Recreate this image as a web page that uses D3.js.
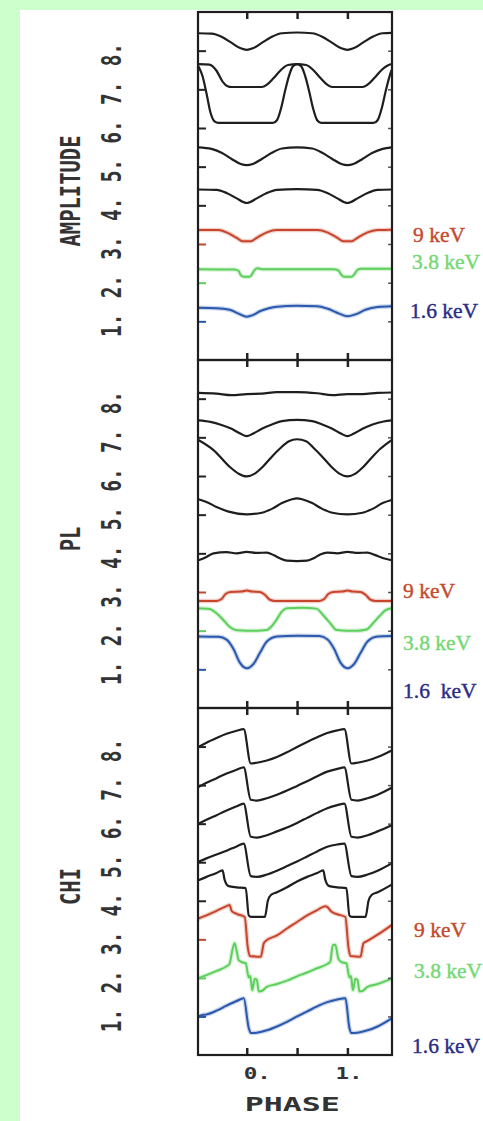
<!DOCTYPE html>
<html>
<head>
<meta charset="utf-8">
<script src="https://cdn.jsdelivr.net/npm/d3@7"></script>
<style>
body{margin:0;background:#ccffcc;}
</style>
</head>
<body>
<div id="chart"></div>
<script>
// panels, level ticks and phase ticks
var panelNames=["AMPLITUDE","PL","CHI"]
var levelTicks=[1,2,3,4,5,6,7,8]
var phaseTicks=[0,0.5,1]
var phaseLabels=["0.","1."]
var energyNames=["1.6 keV","3.8 keV","9 keV"]

// AMPLITUDE panel, curve n sits on level n  [phase, level]
var amp1=[[-0.48,1.35],[-0.3,1.34],[-0.17,1.3],[-0.08,1.2],[0,1.12],[0.06,1.16],[0.13,1.26],[0.22,1.34],[0.3,1.38],[0.5,1.4],[0.7,1.39],[0.8,1.33],[0.92,1.2],[1,1.13],[1.08,1.18],[1.18,1.3],[1.3,1.37],[1.44,1.39]]
var amp2=[[-0.48,2.35],[-0.12,2.34],[-0.08,2.3],[-0.06,2.2],[-0.03,2.15],[0.03,2.15],[0.06,2.25],[0.08,2.33],[0.11,2.37],[0.15,2.35],[0.86,2.35],[0.91,2.32],[0.94,2.2],[0.97,2.15],[1.04,2.15],[1.07,2.22],[1.1,2.33],[1.14,2.36],[1.44,2.36]]
var amp3=[[-0.48,3.36],[-0.28,3.36],[-0.2,3.3],[-0.1,3.16],[-0.04,3.07],[0.04,3.07],[0.1,3.16],[0.2,3.3],[0.3,3.36],[0.7,3.36],[0.8,3.3],[0.9,3.16],[0.96,3.07],[1.04,3.07],[1.1,3.16],[1.2,3.3],[1.3,3.36],[1.44,3.37]]
var amp4=[[-0.48,4.41],[-0.3,4.4],[-0.2,4.32],[-0.1,4.18],[-0.03,4.08],[0,4.06],[0.03,4.08],[0.1,4.18],[0.2,4.32],[0.3,4.4],[0.5,4.42],[0.7,4.4],[0.8,4.32],[0.9,4.18],[0.97,4.08],[1,4.06],[1.03,4.08],[1.1,4.18],[1.2,4.32],[1.3,4.4],[1.44,4.41]]
var amp5=[[-0.48,5.5],[-0.35,5.46],[-0.25,5.36],[-0.15,5.2],[-0.06,5.07],[0,5.04],[0.06,5.07],[0.15,5.2],[0.25,5.36],[0.35,5.47],[0.5,5.5],[0.65,5.47],[0.75,5.36],[0.85,5.2],[0.94,5.07],[1,5.04],[1.06,5.07],[1.15,5.2],[1.25,5.36],[1.35,5.46],[1.44,5.5]]
var amp6=[[-0.48,7.6],[-0.44,7.35],[-0.4,6.9],[-0.36,6.4],[-0.32,6.17],[-0.28,6.13],[0.26,6.13],[0.3,6.2],[0.34,6.5],[0.38,6.95],[0.42,7.35],[0.46,7.6],[0.5,7.65],[0.54,7.6],[0.58,7.35],[0.62,6.95],[0.66,6.5],[0.7,6.2],[0.74,6.13],[1.26,6.13],[1.3,6.2],[1.34,6.5],[1.38,6.95],[1.42,7.35],[1.44,7.5]]
var amp7=[[-0.48,7.65],[-0.37,7.64],[-0.3,7.48],[-0.24,7.2],[-0.19,7.08],[-0.15,7.06],[0.15,7.06],[0.2,7.12],[0.27,7.3],[0.34,7.5],[0.41,7.63],[0.5,7.65],[0.59,7.63],[0.66,7.5],[0.73,7.3],[0.8,7.12],[0.85,7.06],[1.15,7.06],[1.2,7.12],[1.27,7.3],[1.34,7.5],[1.41,7.63],[1.44,7.65]]
var amp8=[[-0.48,8.45],[-0.35,8.44],[-0.25,8.36],[-0.15,8.2],[-0.06,8.06],[0,8.02],[0.06,8.06],[0.15,8.2],[0.25,8.36],[0.35,8.45],[0.5,8.47],[0.65,8.45],[0.75,8.36],[0.85,8.2],[0.94,8.06],[1,8.02],[1.06,8.06],[1.15,8.2],[1.25,8.36],[1.35,8.45],[1.44,8.46]]

// PL panel
var pl1=[[-0.48,1.85],[-0.28,1.84],[-0.2,1.77],[-0.13,1.52],[-0.07,1.18],[0,1.03],[0.07,1.15],[0.13,1.42],[0.2,1.72],[0.3,1.85],[0.5,1.87],[0.72,1.86],[0.8,1.78],[0.87,1.52],[0.93,1.18],[1,1.03],[1.07,1.15],[1.13,1.42],[1.2,1.72],[1.3,1.85],[1.44,1.86]]
var pl2=[[-0.48,2.58],[-0.37,2.56],[-0.3,2.45],[-0.23,2.27],[-0.17,2.1],[-0.1,2.01],[0,2],[0.1,2],[0.2,2.02],[0.25,2.12],[0.3,2.3],[0.35,2.5],[0.4,2.58],[0.55,2.59],[0.69,2.57],[0.76,2.4],[0.83,2.19],[0.89,2.02],[1,2],[1.1,2],[1.19,2.03],[1.25,2.18],[1.32,2.38],[1.38,2.53],[1.44,2.58]]
var pl3=[[-0.48,2.77],[-0.3,2.77],[-0.25,2.82],[-0.21,2.95],[-0.16,3],[-0.05,3.01],[0,3.04],[0.05,3.01],[0.13,3],[0.18,2.93],[0.23,2.8],[0.28,2.77],[0.72,2.77],[0.77,2.82],[0.81,2.95],[0.86,3],[0.95,3.01],[1,3.04],[1.05,3.01],[1.13,3],[1.18,2.93],[1.23,2.8],[1.28,2.77],[1.44,2.77]]
var pl4=[[-0.48,3.82],[-0.42,3.88],[-0.33,4],[-0.2,4.03],[-0.1,4],[0,4.04],[0.1,4.01],[0.2,4.02],[0.27,3.95],[0.33,3.87],[0.4,3.81],[0.5,3.8],[0.6,3.81],[0.67,3.88],[0.73,3.97],[0.8,4.02],[0.9,4],[1,4.04],[1.1,4.01],[1.2,4.02],[1.27,3.96],[1.35,3.88],[1.44,3.82]]
var pl5=[[-0.48,5.4],[-0.4,5.33],[-0.3,5.2],[-0.18,5.08],[0,5.01],[0.15,5.05],[0.25,5.15],[0.35,5.3],[0.45,5.4],[0.5,5.42],[0.55,5.4],[0.65,5.3],[0.75,5.15],[0.85,5.05],[1,5.01],[1.15,5.05],[1.25,5.15],[1.35,5.3],[1.44,5.38]]
var pl6=[[-0.48,6.93],[-0.33,6.67],[-0.17,6.24],[-0.08,6.06],[0,5.99],[0.08,6.06],[0.16,6.24],[0.25,6.5],[0.33,6.71],[0.42,6.9],[0.5,6.95],[0.59,6.9],[0.67,6.71],[0.75,6.5],[0.84,6.24],[0.92,6.06],[1,5.99],[1.08,6.06],[1.16,6.24],[1.25,6.5],[1.33,6.71],[1.44,6.93]]
var pl7=[[-0.48,7.44],[-0.36,7.4],[-0.25,7.32],[-0.15,7.22],[-0.06,7.09],[0,7.03],[0.06,7.09],[0.15,7.22],[0.25,7.33],[0.35,7.42],[0.5,7.45],[0.65,7.42],[0.75,7.33],[0.85,7.22],[0.94,7.09],[1,7.03],[1.06,7.09],[1.15,7.22],[1.25,7.33],[1.36,7.41],[1.44,7.44]]
var pl8=[[-0.48,8.15],[-0.3,8.13],[-0.15,8.09],[0,8.12],[0.15,8.13],[0.3,8.17],[0.5,8.17],[0.7,8.14],[0.85,8.09],[1,8.12],[1.15,8.12],[1.3,8.15],[1.44,8.16]]

// CHI panel
var chi1=[[-0.48,0.99],[-0.45,1.03],[-0.4,1.05],[-0.3,1.15],[-0.2,1.28],[-0.1,1.4],[-0.03,1.47],[0.02,0.7],[0.04,0.57],[0.1,0.58],[0.2,0.64],[0.3,0.74],[0.4,0.86],[0.5,1],[0.6,1.13],[0.7,1.26],[0.8,1.37],[0.9,1.44],[0.98,1.47],[1.02,0.7],[1.04,0.57],[1.1,0.58],[1.2,0.64],[1.3,0.74],[1.44,0.95]]
var chi2=[[-0.48,1.99],[-0.4,2.07],[-0.3,2.18],[-0.2,2.3],[-0.17,2.37],[-0.14,2.75],[-0.12,2.9],[-0.1,2.7],[-0.08,2.46],[-0.04,2.4],[-0.01,2.38],[0.02,2.01],[0.035,2.05],[0.055,1.68],[0.08,1.98],[0.1,1.95],[0.12,1.65],[0.15,1.66],[0.2,1.77],[0.3,1.84],[0.4,1.93],[0.5,2.04],[0.6,2.14],[0.7,2.25],[0.8,2.36],[0.83,2.42],[0.855,2.85],[0.88,2.86],[0.91,2.5],[0.94,2.41],[0.99,2.38],[1.02,2.01],[1.035,2.05],[1.055,1.68],[1.08,1.98],[1.1,1.95],[1.12,1.65],[1.15,1.66],[1.2,1.77],[1.3,1.84],[1.44,1.98]]
var chi3=[[-0.48,3.54],[-0.4,3.62],[-0.3,3.74],[-0.2,3.86],[-0.17,3.89],[-0.15,3.74],[-0.1,3.66],[-0.02,3.58],[0.01,2.8],[0.03,2.57],[0.14,2.55],[0.17,2.9],[0.2,2.98],[0.3,3.1],[0.4,3.28],[0.5,3.45],[0.6,3.62],[0.7,3.76],[0.78,3.86],[0.8,3.84],[0.84,3.72],[0.9,3.65],[0.98,3.58],[1.01,2.8],[1.03,2.57],[1.13,2.55],[1.16,2.9],[1.2,2.96],[1.3,3.12],[1.44,3.37]]
var chi4=[[-0.48,4.53],[-0.4,4.62],[-0.3,4.72],[-0.24,4.79],[-0.22,4.55],[-0.18,4.38],[-0.1,4.35],[-0.01,4.33],[0.02,3.62],[0.05,3.58],[0.18,3.58],[0.21,4],[0.24,4.15],[0.3,4.22],[0.4,4.35],[0.5,4.5],[0.6,4.62],[0.7,4.72],[0.76,4.79],[0.78,4.55],[0.82,4.38],[0.9,4.35],[0.99,4.33],[1.02,3.62],[1.05,3.58],[1.18,3.58],[1.21,4],[1.24,4.15],[1.3,4.22],[1.44,4.42]]
var chi5=[[-0.48,5.01],[-0.4,5.1],[-0.3,5.2],[-0.2,5.3],[-0.1,5.41],[-0.03,5.48],[0.04,4.64],[0.1,4.62],[0.2,4.68],[0.3,4.78],[0.4,4.9],[0.5,5.02],[0.6,5.15],[0.7,5.28],[0.8,5.4],[0.9,5.46],[0.97,5.48],[1.04,4.64],[1.1,4.62],[1.2,4.68],[1.3,4.78],[1.44,4.97]]
var chi6=[[-0.48,6],[-0.4,6.1],[-0.3,6.22],[-0.2,6.34],[-0.1,6.45],[-0.03,6.52],[0.04,5.66],[0.1,5.64],[0.2,5.7],[0.3,5.8],[0.4,5.9],[0.5,6.02],[0.6,6.15],[0.7,6.28],[0.8,6.4],[0.9,6.48],[0.97,6.52],[1.04,5.66],[1.1,5.64],[1.2,5.7],[1.3,5.8],[1.44,5.96]]
var chi7=[[-0.48,6.95],[-0.4,7.06],[-0.3,7.18],[-0.2,7.3],[-0.1,7.4],[-0.03,7.46],[0.04,6.62],[0.1,6.6],[0.2,6.66],[0.3,6.75],[0.4,6.86],[0.5,6.98],[0.6,7.1],[0.7,7.23],[0.8,7.35],[0.9,7.42],[0.97,7.46],[1.04,6.62],[1.1,6.6],[1.2,6.66],[1.3,6.75],[1.44,6.93]]
var chi8=[[-0.48,7.99],[-0.4,8.1],[-0.3,8.22],[-0.2,8.33],[-0.1,8.41],[-0.03,8.45],[0.04,7.56],[0.1,7.58],[0.2,7.64],[0.3,7.73],[0.4,7.85],[0.5,7.99],[0.6,8.12],[0.7,8.24],[0.8,8.35],[0.9,8.42],[0.97,8.45],[1.04,7.56],[1.1,7.58],[1.2,7.64],[1.3,7.73],[1.44,7.9]]

var W=483, H=1121
var left=198, right=392
var panelEdges=[12,360,708,1055]
var curveColors=["#2a58ad","#5ccf5c","#c8452d","#1e1e1e","#1e1e1e","#1e1e1e","#1e1e1e","#1e1e1e"]
var labelColors=["#2b2b86","#74d874","#c44a2c"]

var panels=[
	{name:panelNames[0],series:[amp1,amp2,amp3,amp4,amp5,amp6,amp7,amp8],labels:[[3.05,413],[2.35,412],[1.08,410]]},
	{name:panelNames[1],series:[pl1,pl2,pl3,pl4,pl5,pl6,pl7,pl8],labels:[[2.84,403],[1.5,403],[0.26,403]]},
	{name:panelNames[2],series:[chi1,chi2,chi3,chi4,chi5,chi6,chi7,chi8],labels:[[3.05,414],[1.99,414],[0.06,412]]}
]

var svg=d3.select("#chart").append("svg")
	.attr("width",W)
	.attr("height",H)

svg.append("rect").attr("width",W).attr("height",H).attr("fill","#ccffcc")
svg.append("rect").attr("x",20).attr("y",10).attr("width",W-20).attr("height",H-10).attr("fill","#ffffff")

var xScale=d3.scaleLinear()
	.domain([-0.484,1.443])
	.range([left,right])

var plotFont="'DejaVu Sans Mono', monospace"

panels.forEach(function(p,k){
	var top=panelEdges[k], bottom=panelEdges[k+1]
	var yScale=d3.scaleLinear().domain([0,9]).range([bottom,top])
	var g=svg.append("g")

	// curves (coloured ones get a soft halo like the scanned original)
	var line=d3.line()
		.x(function(d){return xScale(d[0])})
		.y(function(d){return yScale(d[1])})
		.curve(d3.curveMonotoneX)
	p.series.forEach(function(s,i){
		if(i<3){
			g.append("path")
				.datum(s)
				.attr("d",line)
				.attr("fill","none")
				.attr("stroke",curveColors[i])
				.attr("stroke-opacity",0.25)
				.attr("stroke-width",4.5)
				.attr("stroke-linejoin","round")
		}
		g.append("path")
			.datum(s)
			.attr("d",line)
			.attr("fill","none")
			.attr("stroke",curveColors[i])
			.attr("stroke-width",i<3?2:2.2)
			.attr("stroke-linejoin","round")
	})

	// inward ticks, left and right
	var yl=g.append("g").attr("transform","translate("+left+",0)")
		.call(d3.axisRight(yScale).tickValues(levelTicks).tickSize(8).tickFormat(""))
	yl.select(".domain").remove()
	yl.selectAll(".tick line").attr("stroke",function(d){return d<=3?curveColors[d-1]:"#222"}).attr("stroke-width",2)
	var yr=g.append("g").attr("transform","translate("+right+",0)")
		.call(d3.axisLeft(yScale).tickValues(levelTicks).tickSize(4).tickFormat(""))
	yr.select(".domain").remove()
	yr.selectAll(".tick line").attr("stroke","#555").attr("stroke-width",1.5)

	var xt=g.append("g").attr("transform","translate(0,"+top+")")
		.call(d3.axisBottom(xScale).tickValues(phaseTicks).tickSize(7).tickFormat(""))
	xt.select(".domain").remove()
	xt.selectAll(".tick line").attr("stroke","#222").attr("stroke-width",2.5)
	var xb=g.append("g").attr("transform","translate(0,"+bottom+")")
		.call(d3.axisTop(xScale).tickValues(phaseTicks).tickSize(7).tickFormat(""))
	xb.select(".domain").remove()
	xb.selectAll(".tick line").attr("stroke","#222").attr("stroke-width",2.5)

	// frame
	g.append("rect")
		.attr("x",left).attr("y",top)
		.attr("width",right-left).attr("height",bottom-top)
		.attr("fill","none").attr("stroke","#1e1e1e").attr("stroke-width",2.2)

	// rotated level labels 1. .. 8.
	g.selectAll(".lvl").data(levelTicks).enter().append("text")
		.attr("class","lvl")
		.attr("transform",function(d){return "translate(121,"+(yScale(d)+4)+") rotate(-90) scale(0.72,1)"})
		.attr("text-anchor","middle")
		.attr("font-family",plotFont)
		.attr("font-size",27)
		.attr("font-weight","bold")
		.attr("fill","#333")
		.text(function(d){return d+"."})

	// panel name
	g.append("text")
		.attr("transform","translate(80,"+((top+bottom)/2+5)+") rotate(-90) scale(0.76,1)")
		.attr("text-anchor","middle")
		.attr("font-family",plotFont)
		.attr("font-size",27)
		.attr("font-weight","bold")
		.attr("fill","#333")
		.text(p.name)

	// energy labels
	p.labels.forEach(function(l,i){
		var name=energyNames[2-i]
		if(k==1&&i==2)name="1.6  keV"
		g.append("text")
			.attr("x",l[1])
			.attr("y",yScale(l[0]))
			.attr("font-family","'Liberation Serif', serif")
			.attr("font-size",21.5)
			.attr("fill",labelColors[2-i])
			.attr("stroke",labelColors[2-i])
			.attr("stroke-width",0.4)
			.style("white-space","pre")
			.text(name)
	})
})

// bottom phase labels
svg.selectAll(".ph").data(phaseLabels).enter().append("text")
	.attr("class","ph")
	.attr("transform",function(d,i){return "translate("+(xScale(i)-3-i*9)+",1079) scale(1.5,1)"})
	.attr("font-family",plotFont)
	.attr("font-size",15)
	.attr("font-weight","bold")
	.attr("fill","#333")
	.text(function(d){return d})

svg.append("text")
	.attr("transform","translate("+(xScale(0)-2)+",1111) scale(1.58,1)")
	.attr("font-family",plotFont)
	.attr("font-size",20)
	.attr("font-weight","bold")
	.attr("fill","#333")
	.text("PHASE")
</script>
</body>
</html>
